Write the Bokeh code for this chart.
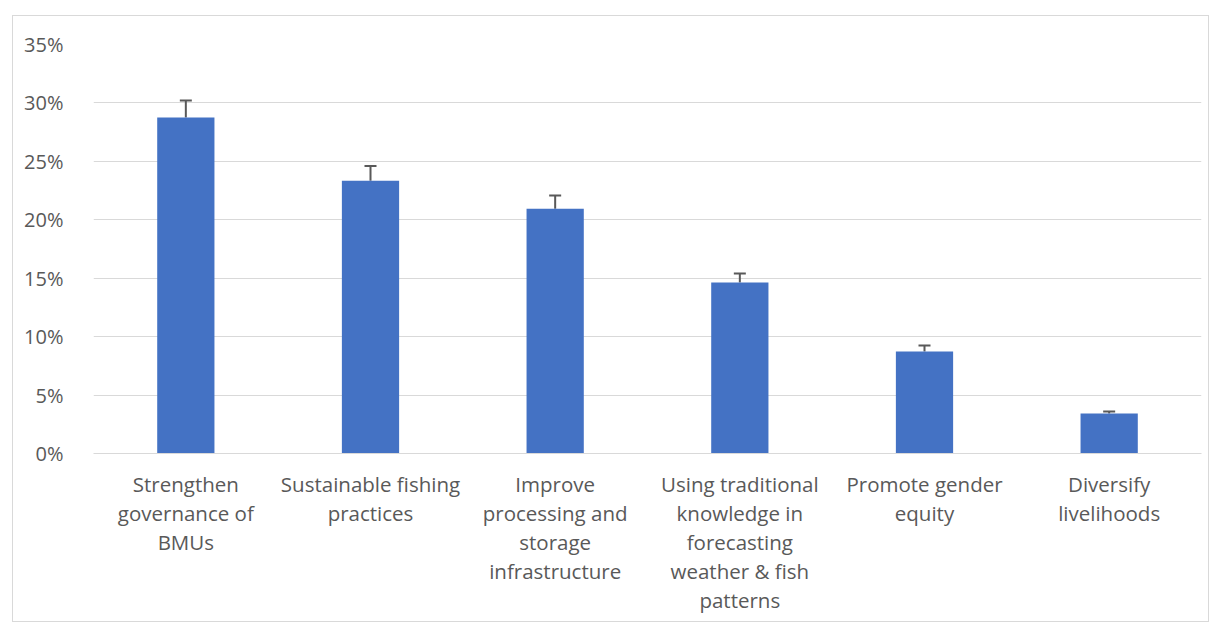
from bokeh.plotting import figure
from bokeh.models import (ColumnDataSource, Whisker, FixedTicker, NumeralTickFormatter,
                          LinearAxis, Spacer)
from bokeh.layouts import column, row
from bokeh.embed import file_html
from bokeh.resources import INLINE

categories = ["Strengthen governance of BMUs", "Sustainable fishing practices",
              "Improve processing and storage infrastructure",
              "Using traditional knowledge in forecasting weather & fish patterns",
              "Promote gender equity", "Diversify livelihoods"]
tick_labels = [["Strengthen", "governance of", "BMUs"],
               ["Sustainable fishing", "practices"],
               ["Improve", "processing and", "storage", "infrastructure"],
               ["Using traditional", "knowledge in", "forecasting", "weather & fish", "patterns"],
               ["Promote gender", "equity"],
               ["Diversify", "livelihoods"]]
values = [0.2875, 0.2335, 0.2095, 0.1463, 0.0873, 0.0342]
upper = [0.302, 0.246, 0.2207, 0.154, 0.0924, 0.036]

FONT = "Open Sans"
GREY = "#595959"

xpos = [i + 0.5 for i in range(len(categories))]
src = ColumnDataSource(dict(x=xpos, cat=categories, val=values, up=upper, lo=values))

p = figure(x_range=(0, len(categories)), y_range=(0, 0.35), width=1197, height=607,
           output_backend="svg", toolbar_location=None,
           min_border_left=80, min_border_right=9, min_border_top=28, min_border_bottom=170,
           styles={"border": "1px solid #d9d9d9"})
p.outline_line_color = None
p.vbar(x="x", top="val", width=0.31, source=src, fill_color="#4472c4", line_color=None)
w = Whisker(base="x", upper="up", lower="lo", source=src, line_color=GREY, line_width=2)
w.upper_head.size = 12
w.upper_head.line_color = GREY
w.upper_head.line_width = 2
w.lower_head = None
p.add_layout(w)

p.yaxis.ticker = FixedTicker(ticks=[0, 0.05, 0.1, 0.15, 0.2, 0.25, 0.3, 0.35])
p.yaxis.formatter = NumeralTickFormatter(format="0%")
p.yaxis.axis_line_color = None
p.yaxis.major_tick_line_color = None
p.yaxis.minor_tick_line_color = None
p.yaxis.major_label_text_font = FONT
p.yaxis.major_label_text_font_size = "20px"
p.yaxis.major_label_text_color = GREY
p.yaxis.major_label_standoff = 24


def style_xaxis(ax, line_idx, standoff):
    ax.ticker = FixedTicker(ticks=xpos, minor_ticks=[])
    ax.major_label_overrides = {x: (lines[line_idx] if line_idx < len(lines) else " ")
                                for x, lines in zip(xpos, tick_labels)}
    ax.major_tick_line_color = None
    ax.minor_tick_line_color = None
    ax.major_tick_out = 0
    ax.major_tick_in = 0
    ax.minor_tick_out = 0
    ax.major_label_text_font = FONT
    ax.major_label_text_font_size = "20.5px"
    ax.major_label_text_color = GREY
    ax.major_label_standoff = standoff


xa = p.xaxis[0]
style_xaxis(xa, 0, 16)
xa.axis_line_color = "#d9d9d9"
n_lines = max(len(l) for l in tick_labels)
for j in range(1, n_lines):
    ax = LinearAxis()
    style_xaxis(ax, j, -2)
    ax.axis_line_color = None
    p.add_layout(ax, "below")

p.xgrid.grid_line_color = None
p.ygrid.grid_line_color = "#d9d9d9"
p.ygrid.grid_line_width = 1

layout = column(Spacer(height=15), row(Spacer(width=12), p))
open("out.html", "w").write(file_html(layout, INLINE))
